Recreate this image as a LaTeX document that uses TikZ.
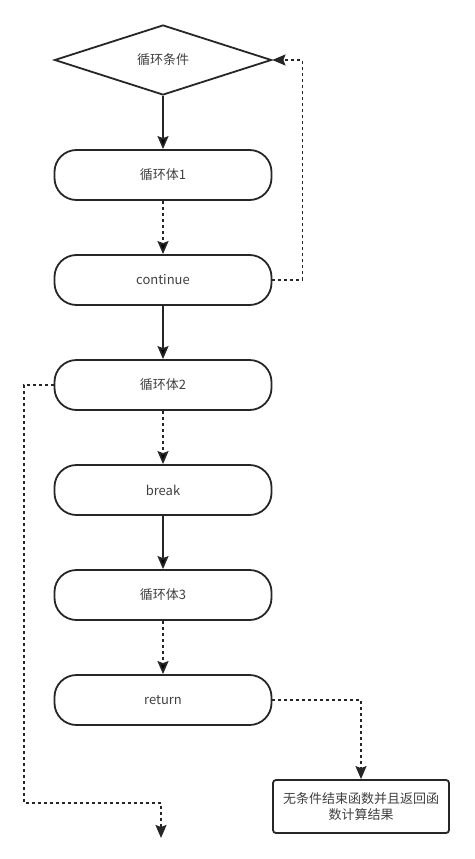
\documentclass[tikz,border=0pt]{standalone}
\usepackage{fontspec}
\setmainfont{Noto Sans CJK SC}
\usetikzlibrary{shapes.geometric, positioning, arrows.meta}
\definecolor{edgecol}{HTML}{262626}
\definecolor{labelcol}{HTML}{404040}

\begin{document}
\begin{tikzpicture} [node distance = 105pt, on grid, auto, x = 1pt, y = 1pt,
    every node/.style = {font = \fontsize{13}{16.5}\selectfont, text = labelcol},
    loopbox/.style = {draw = edgecol, line width = 1.8pt, rectangle, rounded corners = 22pt,
        minimum width = 217pt, minimum height = 50pt, inner sep = 0pt},
    test/.style = {draw = edgecol, line width = 1.8pt, diamond,
        minimum width = 217pt, minimum height = 70pt, inner sep = 0pt},
    result/.style = {draw = edgecol, line width = 1.8pt, rectangle, rounded corners = 3pt,
        minimum width = 176pt, minimum height = 53pt, align = center},
    flow/.style = {-{Stealth[length = 13pt, width = 11pt, inset = 2pt]}, draw = edgecol, line width = 1.8pt},
    dotflow/.style = {flow, dash pattern = on 3pt off 3pt}]

        \useasboundingbox (0,0) rectangle (474,-859);

        \node (cond) [test] at (163,-60) {循环条件}; \node (body1) [loopbox,
        below = 115pt of cond] {循环体1}; \node (cont) [loopbox, below = of
        body1] {continue}; \node (body2) [loopbox, below = of cont] {循环体2};
        \node (brk) [loopbox, below = of body2] {break}; \node (body3) [loopbox,
        below = of brk] {循环体3}; \node (ret) [loopbox, below = of body3]
        {return}; \node (res) [result] at (361,-806.5)
        {无条件结束函数并且返回函\\数计算结果};
        \coordinate (exitturn) at (161,-803); \coordinate (exit) at (161,-838);

        \path [flow]
            (cond) edge (body1) (cont) edge (body2) (brk) edge (body3);
        \path [dotflow]
            (body1) edge (cont) (body2) edge (brk) (body3) edge (ret);

        \draw [dotflow] (cont.east) -- ++(30,0) |- (cond.east);
        \draw [dotflow] (body2.west) -- ++(-30,0) |- (exitturn) -- (exit);
        \draw [dotflow] (ret.east) -| (res.north);

    \end{tikzpicture}
\end{document}
